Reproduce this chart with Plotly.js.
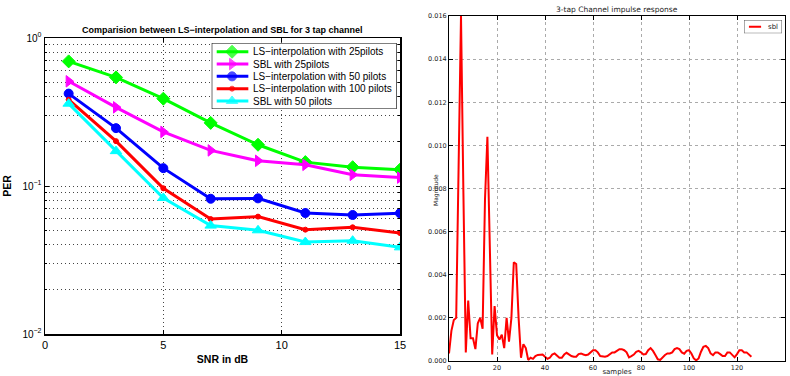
<!DOCTYPE html>
<html>
<head>
<meta charset="utf-8">
<script src="https://cdn.plot.ly/plotly-3.0.1.min.js"></script>
<style>html,body{margin:0;padding:0;background:#fff;}#chart{width:790px;height:376px;}</style>
</head>
<body>
<div id="chart"></div>
<script>
// ---- Left chart data: PER vs SNR ----
const snr = [1, 3, 5, 7, 9, 11, 13, 15];
const lsInterp25 = [0.695, 0.542, 0.389, 0.267, 0.190, 0.145, 0.134, 0.129];
const sbl25 = [0.510, 0.340, 0.232, 0.174, 0.148, 0.139, 0.119, 0.114];
const lsInterp50 = [0.421, 0.246, 0.132, 0.082, 0.0825, 0.0657, 0.0637, 0.0655];
const lsInterp100 = [0.383, 0.201, 0.0965, 0.0598, 0.0621, 0.0507, 0.0526, 0.0481];
const sbl50 = [0.360, 0.172, 0.083, 0.054, 0.0502, 0.0418, 0.0427, 0.0385];
const seriesNames = ["LS\u2212interpolation with 25pilots", "SBL with 25pilots", "LS\u2212interpolation with 50 pilots", "LS\u2212interpolation with 100 pilots", "SBL with 50 pilots"];
const snrTickVals = [0, 5, 10, 15];
const perTickVals = [0.01, 0.1, 1];
const perTickText = ["10<sup>\u22122</sup>", "10<sup>\u22121</sup>", "10<sup>0</sup>"];
const perMinorVals = [0.02,0.03,0.04,0.05,0.06,0.07,0.08,0.09,0.2,0.3,0.4,0.5,0.6,0.7,0.8,0.9];

// ---- Right chart data: channel impulse response ----
const sblMagnitude = [
  0.00035, 0.0014, 0.0019, 0.0020, 0.0090, 0.0160, 0.0078, 0.0004, 0.0028, 0.00105,
  0.00105, 0.00055, 0.00175, 0.0020, 0.0015, 0.0075, 0.0104, 0.0055, 0.0003, 0.00255,
  0.0012, 0.0010, 0.00122, 0.0006, 0.0020, 0.0009, 0.0020, 0.00458, 0.0045, 0.0020,
  0.00015, 0.00078, 0.0006, 0.00005, 0.00015, 0.0001, 0.00023, 0.00028, 0.0003, 0.0003,
  0.0002, 0.0001, 0.00015, 0.0003, 0.00035, 0.00025, 0.00015, 0.00015, 0.0003, 0.00038,
  0.0003, 0.00023, 0.0002, 0.0002, 0.00032, 0.00035, 0.0003, 0.00027, 0.0003, 0.0004,
  0.0005, 0.0005, 0.0004, 0.00023, 0.0002, 0.0002, 0.00023, 0.00032, 0.0004, 0.0004,
  0.00048, 0.00055, 0.00055, 0.0005, 0.0004, 0.00017, 0.00023, 0.0003, 0.00043, 0.00047,
  0.0004, 0.0003, 0.00032, 0.0005, 0.0006, 0.00047, 0.00028, 0.00008, 0.00005, 0.00017,
  0.00028, 0.00035, 0.00035, 0.0004, 0.00055, 0.0006, 0.00055, 0.0004, 0.00034, 0.00047,
  0.0005, 0.00035, 0.00012, 0.00003, 0.00012, 0.00043, 0.00066, 0.0007, 0.0006, 0.00035,
  0.00027, 0.0004, 0.0004, 0.00032, 0.00023, 0.00023, 0.0004, 0.0004, 0.00027, 0.00017,
  0.00032, 0.0005, 0.0005, 0.0004, 0.0004, 0.00032, 0.0002
];
const samples = sblMagnitude.map((_, i) => i);
const rightSeriesName = "sbl";

const leftFont = "Liberation Sans, Arial, Helvetica, sans-serif";
const rightFont = "DejaVu Sans, sans-serif";

const styles = [
  {color: "#00FF00", symbol: "diamond", size: 10},
  {color: "#FF00FF", symbol: "triangle-right", size: 10},
  {color: "#0000FF", symbol: "circle", size: 9},
  {color: "#FF0000", symbol: "circle", size: 5},
  {color: "#00FFFF", symbol: "triangle-up", size: 10}
];
const leftSeries = [lsInterp25, sbl25, lsInterp50, lsInterp100, sbl50];

const traces = leftSeries.map((vals, i) => ({
  x: snr, y: vals, name: seriesNames[i], type: "scatter", mode: "lines+markers",
  xaxis: "x", yaxis: "y", showlegend: false,
  line: {color: styles[i].color, width: 3},
  marker: {color: styles[i].color, symbol: styles[i].symbol, size: styles[i].size,
           line: {color: styles[i].color, width: 1}}
}));

traces.push({
  x: samples, y: sblMagnitude, name: rightSeriesName, type: "scatter", mode: "lines",
  xaxis: "x2", yaxis: "y2", showlegend: false,
  line: {color: "#FF0000", width: 2}
});

// ---- compact legend boxes (legend glyphs on hidden helper axes) ----
const legTop = 0.29, legBottom = 5.65;
traces.push({
  x: [0, 1, 1, 0, 0], y: [legTop, legTop, legBottom, legBottom, legTop],
  xaxis: "x3", yaxis: "y3", type: "scatter", mode: "lines", fill: "toself",
  fillcolor: "#fff", line: {color: "#000", width: 1.2}, showlegend: false, hoverinfo: "skip"
});
const legendAnn = [];
leftSeries.forEach((_, i) => {
  traces.push({
    x: [0.027, 0.11, 0.198], y: [i + 1, i + 1, i + 1],
    xaxis: "x3", yaxis: "y3", type: "scatter", mode: "lines+markers", showlegend: false,
    line: {color: styles[i].color, width: 3},
    marker: {color: styles[i].color, symbol: styles[i].symbol,
             size: [0, styles[i].size, 0], line: {color: styles[i].color, width: 1}},
    hoverinfo: "skip"
  });
  legendAnn.push({
    text: seriesNames[i], xref: "x3", yref: "y3", x: 0.212, y: i + 1,
    xanchor: "left", yanchor: "middle", showarrow: false,
    font: {family: leftFont, size: 10, color: "#000"}
  });
});
traces.push({
  x: [0, 1, 1, 0, 0], y: [0, 0, 1, 1, 0],
  xaxis: "x4", yaxis: "y4", type: "scatter", mode: "lines", fill: "toself",
  fillcolor: "#fff", line: {color: "#555", width: 1}, showlegend: false, hoverinfo: "skip"
});
traces.push({
  x: [0.13, 0.45], y: [0.5, 0.5],
  xaxis: "x4", yaxis: "y4", type: "scatter", mode: "lines", showlegend: false,
  line: {color: "#FF0000", width: 2}, hoverinfo: "skip"
});
legendAnn.push({
  text: rightSeriesName, xref: "x4", yref: "y4", x: 0.58, y: 0.5,
  xanchor: "left", yanchor: "middle", showarrow: false,
  font: {family: rightFont, size: 7, color: "#222"}
});

const dotGrid = "1px,3px";
const layout = {
  width: 790, height: 376,
  margin: {l: 0, r: 0, t: 0, b: 0},
  paper_bgcolor: "#fff", plot_bgcolor: "rgba(0,0,0,0)",
  showlegend: false,
  xaxis: {
    domain: [45/790, 400/790], range: [0, 15], tickmode: "array", tickvals: snrTickVals,
    showline: true, linecolor: "#000", linewidth: 1.5, mirror: "ticks",
    ticks: "inside", ticklen: 4, tickcolor: "#000",
    showgrid: true, gridcolor: "#444", griddash: dotGrid, gridwidth: 1, zeroline: false,
    tickfont: {family: leftFont, size: 11, color: "#000"},
    title: {text: "<b>SNR in dB</b>", font: {family: leftFont, size: 10.5, color: "#000"}, standoff: 6}
  },
  yaxis: {
    domain: [1 - 334/376, 1 - 38/376], type: "log", range: [-2, 0],
    tickmode: "array", tickvals: perTickVals, ticktext: perTickText,
    showline: true, linecolor: "#000", linewidth: 1.5, mirror: "ticks",
    ticks: "inside", ticklen: 4, tickcolor: "#000",
    showgrid: true, gridcolor: "#444", griddash: dotGrid, gridwidth: 1, zeroline: false,
    minor: {tickvals: perMinorVals, ticks: "inside", ticklen: 2, tickcolor: "#000",
            showgrid: true, gridcolor: "#444", griddash: dotGrid, gridwidth: 1},
    tickfont: {family: leftFont, size: 10, color: "#000"},
    title: {text: "<b>PER</b>", font: {family: leftFont, size: 10.5, color: "#000"}, standoff: 8}
  },
  xaxis2: {
    domain: [449/790, 785/790], range: [0, 140], dtick: 20, anchor: "y2",
    showline: true, linecolor: "#000", linewidth: 1, mirror: "ticks",
    ticks: "inside", ticklen: 4, tickcolor: "#000",
    showgrid: true, gridcolor: "#aaa", griddash: "dot", gridwidth: 1, zeroline: false,
    tickfont: {family: rightFont, size: 6.5, color: "#222"},
    title: {text: "samples", font: {family: rightFont, size: 7, color: "#222"}, standoff: 2}
  },
  yaxis2: {
    domain: [1 - 361/376, 1 - 16/376], range: [0, 0.016], dtick: 0.002, anchor: "x2",
    tickformat: ".3f",
    showline: true, linecolor: "#000", linewidth: 1, mirror: "ticks",
    ticks: "inside", ticklen: 4, tickcolor: "#000",
    showgrid: true, gridcolor: "#aaa", griddash: "dot", gridwidth: 1, zeroline: false,
    tickfont: {family: rightFont, size: 6.5, color: "#222"}
  },
  xaxis3: {domain: [211.7/790, 396.7/790], range: [0, 1], visible: false, anchor: "y3", fixedrange: true},
  yaxis3: {domain: [1 - 109/376, 1 - 43/376], range: [legBottom, legTop], visible: false, anchor: "x3", fixedrange: true},
  xaxis4: {domain: [744/790, 782/790], range: [0, 1], visible: false, anchor: "y4", fixedrange: true},
  yaxis4: {domain: [1 - 33.3/376, 1 - 20/376], range: [0, 1], visible: false, anchor: "x4", fixedrange: true},
  annotations: [
    {text: "<b>Comparision between LS\u2212interpolation and SBL for 3 tap channel</b>",
     xref: "paper", yref: "paper", x: 222/790, y: 1 - 30/376, xanchor: "center", yanchor: "middle",
     showarrow: false, font: {family: leftFont, size: 9, color: "#000"}},
    {text: "3-tap Channel impulse response",
     xref: "paper", yref: "paper", x: 617/790, y: 1 - 10/376, xanchor: "center", yanchor: "middle",
     showarrow: false, font: {family: rightFont, size: 7.5, color: "#222"}},
    {text: "Magnitude", textangle: -90,
     xref: "paper", yref: "paper", x: 436/790, y: 1 - 190/376, xanchor: "center", yanchor: "middle",
     showarrow: false, font: {family: rightFont, size: 6, color: "#222"}}
  ].concat(legendAnn)
};

Plotly.newPlot("chart", traces, layout, {staticPlot: true, displayModeBar: false});
</script>
</body>
</html>
